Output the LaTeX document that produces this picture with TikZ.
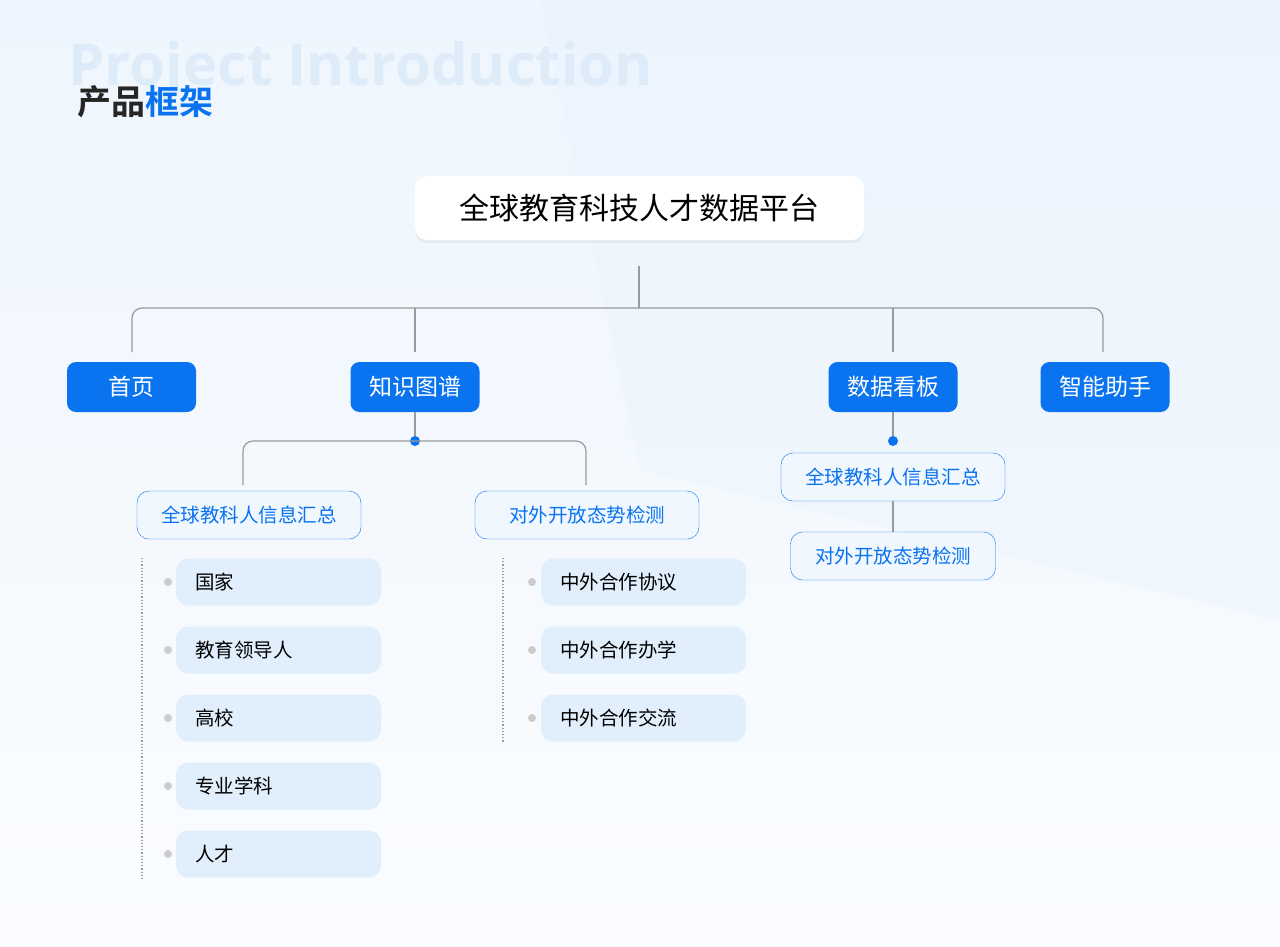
\documentclass[tikz,border=0pt]{standalone}
\usepackage{fontspec}
\setmainfont{Noto Sans CJK SC}
\newfontfamily\cjkb{Noto Sans CJK SC Bold}
\newfontfamily\wmf{Open Sans Bold}
\usetikzlibrary{shadows}
\definecolor{bblue}{HTML}{0A73EF}
\definecolor{lblue}{HTML}{E1EFFC}
\definecolor{lgray}{HTML}{9A9A9A}
\definecolor{wm}{HTML}{DEEBF9}
\begin{document}
\begin{tikzpicture}[x=1pt,y=-1pt,
  l1/.style={rounded corners=9pt,fill=bblue,text=white,minimum width=129pt,minimum height=50pt,font=\fontsize{23}{26}\selectfont},
  ol/.style={rounded corners=12pt,draw=bblue,fill=white!94!bblue,text=bblue,minimum width=224pt,minimum height=48pt,font=\fontsize{19.5}{22}\selectfont},
  it/.style={rounded corners=12pt,fill=lblue,minimum width=205pt,minimum height=47pt,text width=167pt,inner xsep=19pt,align=left,font=\fontsize{19.5}{22}\selectfont},
  ln/.style={draw=lgray,line width=1.2pt,rounded corners=10pt},
  gd/.style={circle,fill=black!20,inner sep=0pt,minimum size=8pt},
  bd/.style={circle,fill=bblue,inner sep=0pt,minimum size=10pt}]
\shade[top color=white!93!bblue,bottom color=white!98!bblue] (0,0) rectangle (1280,946);
\fill[white!91!bblue,opacity=0.45] (540,0) -- (1280,0) -- (1280,620) -- (640,470) -- cycle;
\useasboundingbox (0,0) rectangle (1280,946);
\node[anchor=west,text=wm,font=\wmf\fontsize{58}{58}\selectfont,inner sep=0pt] (wmk) at (68,70) {Project Introduction};
\node[anchor=west,font=\cjkb\fontsize{34}{36}\selectfont,inner sep=0pt] (ttl) at (77,102) {\textcolor{black!85}{产品}\textcolor{bblue}{框架}};
\node[rounded corners=12pt,fill=white,drop shadow={opacity=0.1,shadow xshift=0pt,shadow yshift=-3pt},minimum width=449pt,minimum height=64pt,font=\fontsize{30}{34}\selectfont] (root) at (639.5,208) {全球教育科技人才数据平台};
\node[l1] (a) at (131.5,387) {首页};
\node[l1] (b) at (415,387) {知识图谱};
\node[l1] (c) at (893,387) {数据看板};
\node[l1] (d) at (1105,387) {智能助手};
\coordinate (rt) at (639,266);
\coordinate (hy) at (639,308);
\draw[draw=lgray,line width=1.2pt] (rt) -- (hy);
\draw[ln] (132,352) -- (132,308) -- (1103,308) -- (1103,352);
\draw[ln] (415,308) -- (415,352);
\draw[ln] (893,308) -- (893,352);
\node[bd] (kd) at (415,441) {};
\draw[ln] (b) -- (kd);
\draw[ln] (243,485) -- (243,441) -- (586,441) -- (586,485);
\node[ol] (k1) at (249,515) {全球教科人信息汇总};
\node[ol] (k2) at (587,515) {对外开放态势检测};
\draw[lgray,line width=1.2pt,dotted] (142,558) -- (142,880);
\draw[lgray,line width=1.2pt,dotted] (503,558) -- (503,742);
\foreach \t [count=\i] in {国家,教育领导人,高校,专业学科,人才}{
  \node[it] (p\i) at (278.5,514+68*\i) {\t};
  \node[gd] (g\i) at (168,514+68*\i) {};
}
\foreach \t [count=\i] in {中外合作协议,中外合作办学,中外合作交流}{
  \node[it] (q\i) at (643.5,514+68*\i) {\t};
  \node[gd] (h\i) at (532,514+68*\i) {};
}
\node[bd] (cd) at (893,441) {};
\draw[ln] (c) -- (cd);
\node[ol] (c1) at (893,477) {全球教科人信息汇总};
\node[ol,minimum width=205pt] (c2) at (893,556) {对外开放态势检测};
\draw[ln] (c1) -- (c2);
\end{tikzpicture}
\end{document}
